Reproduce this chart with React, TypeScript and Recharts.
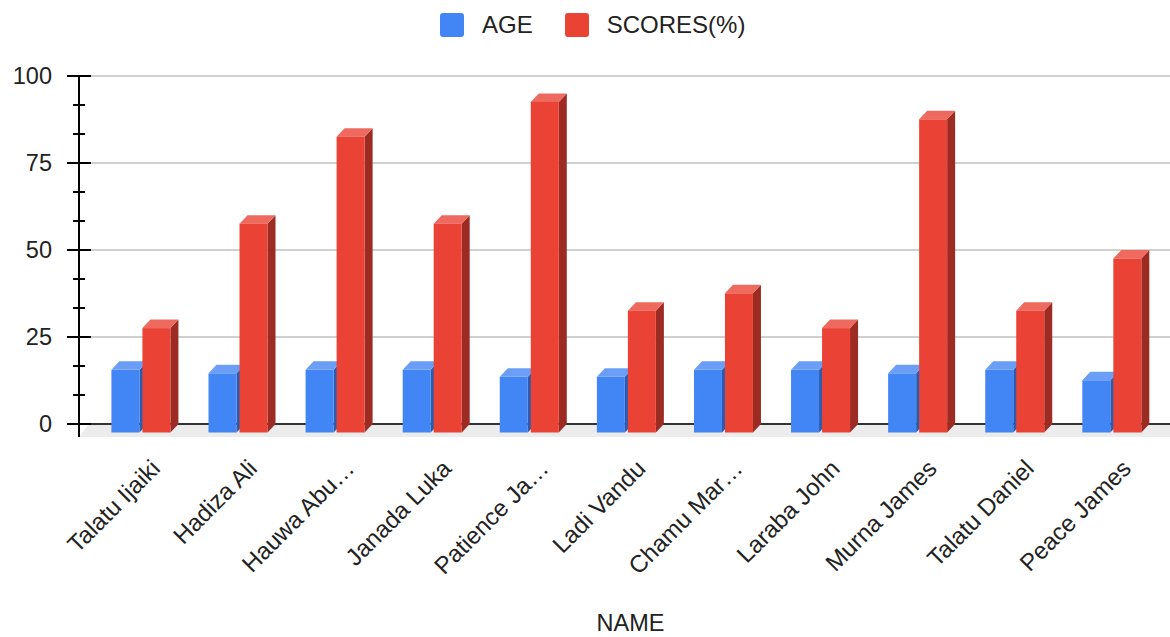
import {
  Bar,
  BarChart,
  CartesianGrid,
  Legend,
  XAxis,
  YAxis,
} from "recharts";

const names = [
  "Talatu Ijaiki",
  "Hadiza Ali",
  "Hauwa Abu…",
  "Janada Luka",
  "Patience Ja…",
  "Ladi Vandu",
  "Chamu Mar…",
  "Laraba John",
  "Murna James",
  "Talatu Daniel",
  "Peace James",
];
const ages = [18, 17, 18, 18, 16, 16, 18, 18, 17, 18, 15];
const scores = [30, 60, 85, 60, 95, 35, 40, 30, 90, 35, 50];
const majorTicks = [0, 25, 50, 75, 100];
const yTicks = Array.from({ length: 13 }, (_, i) => (i * 25) / 3);

const data = names.map((name, i) => ({ name, age: ages[i], score: scores[i] }));

const FONT = "'Liberation Sans', Arial, sans-serif";
const TEXT = "#222222";
const DX = 8;
const DY = 8.5;

const BLUE = { face: "#4285f4", top: "#6b9ef6", side: "#2d5cae" };
const RED = { face: "#ea4335", top: "#ee6a5f", side: "#9b2b23" };

type Colors = { face: string; top: string; side: string };

function Box3D(props: any & { colors: Colors }) {
  const { x, y, width, height, colors } = props;
  if (height == null || width == null) return null;
  const fy = y + DY;
  return (
    <g>
      <polygon
        points={`${x + width},${fy} ${x + width + DX},${y} ${x + width + DX},${y + height} ${x + width},${fy + height}`}
        fill={colors.side}
      />
      <polygon
        points={`${x},${fy} ${x + DX},${y} ${x + width + DX},${y} ${x + width},${fy}`}
        fill={colors.top}
      />
      <rect x={x} y={fy} width={width} height={height} fill={colors.face} />
    </g>
  );
}

// the 0 line is dark and sits on the grey floor, the others are light grid lines
function gridLine(p: any) {
  const bottom = p.y + p.height;
  if (Math.abs(p.y1 - bottom) < 1) {
    return (
      <g key={`h-${p.index}`}>
        <polygon
          points={`${p.x1},${p.y1 + 13} ${p.x1 + 10},${p.y1} ${p.x2},${p.y1} ${p.x2},${p.y1 + 13}`}
          fill="#ececec"
        />
        <line x1={p.x1} y1={p.y1} x2={p.x2} y2={p.y2} stroke="#333333" strokeWidth={2} />
      </g>
    );
  }
  return (
    <line
      key={`h-${p.index}`}
      x1={p.x1}
      y1={p.y1}
      x2={p.x2}
      y2={p.y2}
      stroke="#d0d0d0"
      strokeWidth={2}
    />
  );
}

function YTick({ x, y, payload }: any) {
  const v = payload.value;
  const major = majorTicks.some((m) => Math.abs(m - v) < 0.01);
  if (!major) {
    return <line x1={x - 6} y1={y} x2={x + 6} y2={y} stroke="#000" strokeWidth={2} />;
  }
  return (
    <g>
      <line x1={x - 12} y1={y} x2={x + 12} y2={y} stroke="#000" strokeWidth={2} />
      {Math.abs(v) < 0.01 && (
        <line x1={x} y1={y} x2={x} y2={y + 13} stroke="#000" strokeWidth={2} />
      )}
      <text
        x={x - 27}
        y={y}
        dy="0.36em"
        textAnchor="end"
        fontSize={23.5}
        fontFamily={FONT}
        fill={TEXT}
      >
        {Math.round(v)}
      </text>
    </g>
  );
}

function XTick({ x, y, payload }: any) {
  const tx = x + 21;
  const ty = y + 46;
  return (
    <text
      x={tx}
      y={ty}
      textAnchor="end"
      fontSize={24}
      fontFamily={FONT}
      fill={TEXT}
      transform={`rotate(-45 ${tx} ${ty})`}
    >
      {payload.value}
    </text>
  );
}

function LegendRow({ payload }: any) {
  return (
    <div
      style={{
        height: 40,
        boxSizing: "border-box",
        paddingTop: 9,
        paddingLeft: 440,
        display: "flex",
        alignItems: "center",
        fontFamily: FONT,
        fontSize: 24,
        color: TEXT,
      }}
    >
      {(payload || []).map((entry: any) => (
        <div
          key={entry.value}
          style={{ display: "flex", alignItems: "center", marginRight: 32 }}
        >
          <span
            style={{
              width: 24,
              height: 24,
              borderRadius: 3,
              background: entry.color,
              marginRight: 18,
              display: "inline-block",
            }}
          />
          <span>{entry.value}</span>
        </div>
      ))}
    </div>
  );
}

export default function App() {
  return (
    <div style={{ position: "absolute", left: 0, top: 0, background: "#fff" }}>
      <BarChart
        width={1170}
        height={637}
        data={data}
        margin={{ top: 36, right: 0, bottom: 0, left: 0 }}
        barCategoryGap="20%"
        barGap={3}
      >
        <Legend
          verticalAlign="top"
          height={40}
          content={<LegendRow />}
          wrapperStyle={{ top: 0, left: 0, width: 1170 }}
        />
        <CartesianGrid
          vertical={false}
          horizontal={gridLine}
          horizontalValues={majorTicks}
        />
        <XAxis
          dataKey="name"
          interval={0}
          height={213}
          padding={{ left: 13, right: 10 }}
          axisLine={false}
          tickLine={false}
          tickSize={0}
          tickMargin={0}
          tick={<XTick />}
          label={{
            value: "NAME",
            position: "insideBottom",
            offset: 6,
            dx: 6,
            fontSize: 23.5,
            fontFamily: FONT,
            fill: TEXT,
          }}
        />
        <YAxis
          width={79}
          domain={[0, 100]}
          ticks={yTicks}
          interval={0}
          axisLine={{ stroke: "#000", strokeWidth: 2 }}
          tickLine={false}
          tickSize={0}
          tickMargin={0}
          tick={<YTick />}
        />
        <Bar
          dataKey="age"
          name="AGE"
          fill={BLUE.face}
          isAnimationActive={false}
          shape={(p: any) => <Box3D {...p} colors={BLUE} />}
        />
        <Bar
          dataKey="score"
          name="SCORES(%)"
          fill={RED.face}
          isAnimationActive={false}
          shape={(p: any) => <Box3D {...p} colors={RED} />}
        />
      </BarChart>
    </div>
  );
}
